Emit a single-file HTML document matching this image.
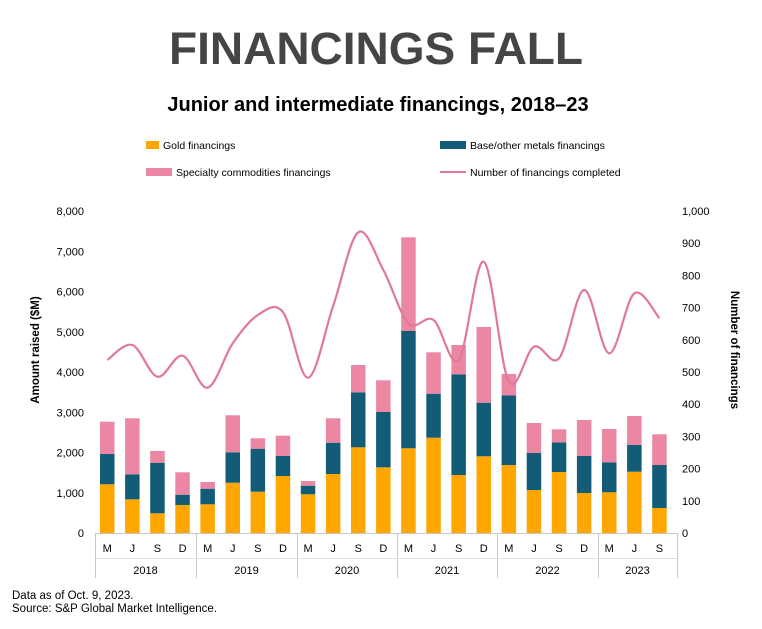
<!DOCTYPE html>
<html><head><meta charset="utf-8"><style>
body{margin:0;background:#fff;width:762px;height:624px;overflow:hidden;font-family:"Liberation Sans",sans-serif}
</style></head><body>
<svg width="762" height="624" xmlns="http://www.w3.org/2000/svg" font-family="Liberation Sans, sans-serif">
<text x="376" y="64" text-anchor="middle" font-size="45" font-weight="bold" fill="#454545" textLength="414" lengthAdjust="spacingAndGlyphs">FINANCINGS FALL</text>
<text x="378" y="111" text-anchor="middle" font-size="20" font-weight="bold" fill="#000">Junior and intermediate financings, 2018–23</text>
<rect x="146" y="141" width="13" height="8" fill="#FFA600"/><text x="163" y="149" font-size="10.5">Gold financings</text>
<rect x="440" y="141" width="26" height="8" fill="#135C78"/><text x="470" y="149" font-size="10.5">Base/other metals financings</text>
<rect x="146" y="168" width="26" height="8" fill="#EB87A3"/><text x="176" y="176" font-size="10.5">Specialty commodities financings</text>
<line x1="440" y1="172" x2="466" y2="172" stroke="#E0789A" stroke-width="2"/><text x="470" y="176" font-size="10.5">Number of financings completed</text>
<g font-size="11" text-anchor="end" id="yl"></g>
<g font-size="11" id="yr"></g>
<text transform="translate(39,350) rotate(-90)" text-anchor="middle" font-size="11.5" font-weight="bold">Amount raised ($M)</text>
<text transform="translate(731,350) rotate(90)" text-anchor="middle" font-size="11.5" font-weight="bold">Number of financings</text>
<g id="bars"></g>
<g stroke="#c8c8c8" stroke-width="1" id="ax"></g>
<path id="ln" fill="none" stroke="#E0789A" stroke-width="2.2"/>
<g font-size="11" text-anchor="middle" id="xl"></g>
<text x="12" y="599" font-size="11.5">Data as of Oct. 9, 2023.</text>
<text x="12" y="612" font-size="11.5">Source: S&amp;P Global Market Intelligence.</text>
</svg>
<script>
var NS="http://www.w3.org/2000/svg";
function el(p,t,a,txt){var e=document.createElementNS(NS,t);for(var k in a)e.setAttribute(k,a[k]);if(txt)e.textContent=txt;document.getElementById(p).appendChild(e);}
var base=533,u=40.25;
for(var i=0;i<=8;i++){var y=base-i*u;el("yl","text",{x:84,y:y+4},i==0?"0":(i*1000).toLocaleString("en-US"));}
for(var i=0;i<=10;i++){var y=base-i*32.2;el("yr","text",{x:682,y:y+4},i==0?"0":(i*100).toLocaleString("en-US"));}
var B=[[484.3,454,421.7],[499.3,474.3,418.3],[513.3,462.7,451],[505,494.7,472.3],[504.3,488.7,482],[482.7,452.3,415.3],[491.7,448.7,438.3],[476,456,435.7],[494.3,485.7,481],[474,442.7,418.3],[447.3,392.3,365],[467.3,412,380.3],[448.3,331,237.3],[437.7,393.7,352.3],[475,374.3,345],[456.3,402.7,327],[465,395.3,374],[490,453,423],[472,442.3,429.3],[493,456,420],[492.3,462.3,429],[471.7,445,416],[508,465,434.3]];
var L=[360,345,376.7,355.7,387.7,343.3,315,312,377.7,306,232.3,270,323.3,320,360,261.7,381.7,346.7,358.3,290,353.3,293.3,318.3];
var M=["M","J","S","D"],pts=[];
for(var i=0;i<23;i++){var x=100+25.1*i,b=B[i];
el("bars","rect",{x:x,y:b[0],width:14.5,height:base-b[0],fill:"#FFA600"});
el("bars","rect",{x:x,y:b[1],width:14.5,height:b[0]-b[1],fill:"#135C78"});
el("bars","rect",{x:x,y:b[2],width:14.5,height:b[1]-b[2],fill:"#EB87A3"});
el("xl","text",{x:x+7.25,y:552},M[i%4]);pts.push([x+7.25,L[i]]);}
el("ax","line",{x1:95,y1:533.5,x2:677,y2:533.5});
[95,196,297,397,497,598,677].forEach(function(x){el("ax","line",{x1:x+.5,y1:533,x2:x+.5,y2:578});});
el("ax","line",{x1:95,y1:558.5,x2:677,y2:558.5,stroke:"#e0e0e0"});
var yrs=["2018","2019","2020","2021","2022","2023"],ed=[95,196,297,397,497,598,677];
for(var j=0;j<6;j++)el("xl","text",{x:(ed[j]+ed[j+1])/2,y:574},yrs[j]);
var d="M"+pts[0][0]+","+pts[0][1];
for(var i=0;i<pts.length-1;i++){var p0=pts[Math.max(i-1,0)],p1=pts[i],p2=pts[i+1],p3=pts[Math.min(i+2,pts.length-1)];
d+=" C"+(p1[0]+(p2[0]-p0[0])/6)+","+(p1[1]+(p2[1]-p0[1])/6)+" "+(p2[0]-(p3[0]-p1[0])/6)+","+(p2[1]-(p3[1]-p1[1])/6)+" "+p2[0]+","+p2[1];}
document.getElementById("ln").setAttribute("d",d);
</script>
</body></html>
